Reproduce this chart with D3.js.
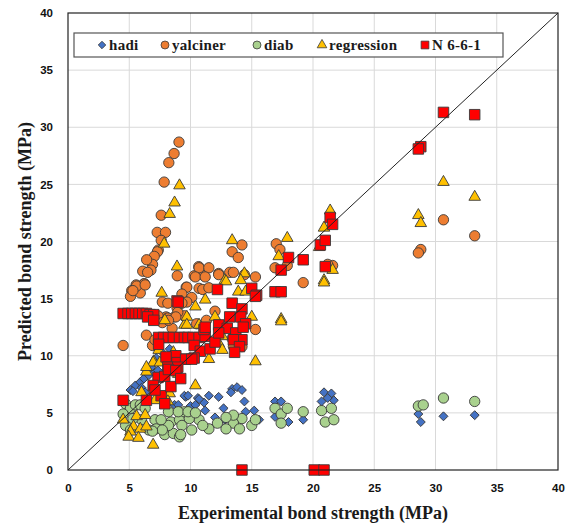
<!DOCTYPE html>
<html>
<head>
<meta charset="utf-8">
<script src="https://cdn.jsdelivr.net/npm/d3@7"></script>
<style>
  body { margin: 0; background: #fff; }
  .tick text { font-family: "Liberation Sans", Arial, sans-serif; font-weight: bold; font-size: 11.5px; fill: #111; }
  .ttl { font-family: "Liberation Serif", "Times New Roman", serif; font-weight: bold; fill: #1a1a1a; }
</style>
</head>
<body>
<div id="chart"></div>
<script>
const hadi = [
  [5.1,7.0],[5.5,7.4],[5.9,7.7],[6.2,8.0],[6.6,8.3],[6.95,8.6],[7.35,8.7],[6.0,7.2],[6.3,6.8],[6.8,9.0],
  [8.7,5.7],[9.6,6.4],[5.3,6.9],[7.6,10.4],[8.3,10.6],[7.2,9.8],[8.0,9.6],[9.5,6.5],[10.6,6.3],[11.1,5.9],[10.0,5.6],
  [13.4,7.1],[13.8,7.25],[14.2,7.0],[13.3,6.8],[9.8,6.5],[10.7,6.2],[11.5,6.5],[12.3,6.4],[10.4,5.7],[12.7,5.4],
  [11.2,5.2],[14.4,6.0],[15.2,5.2],[14.5,5.1],[12.0,4.6],[12.8,4.4],[16.9,6.0],[17.4,6.0],[18.0,4.2],[19.2,4.4],
  [20.9,6.8],[21.5,6.7],[20.7,6.0],[21.7,6.1],[16.9,4.65],[15.6,4.4],[9.0,5.7],[21.2,6.3],
  [28.6,4.9],[28.8,4.2],[30.65,4.7],[33.2,4.8]
];
const yalciner = [
  [9.06,28.7],[8.66,27.7],[8.23,26.9],[7.85,25.2],[7.61,22.3],[7.28,20.8],[7.96,20.8],[7.61,20.1],[7.37,19.25],
  [7.3,19.1],[7.04,18.7],[6.9,18.0],[6.42,18.4],[6.1,17.4],[6.77,17.5],[6.5,17.3],[6.2,16.3],[5.56,16.2],[5.2,15.7],
  [5.1,15.2],[5.9,15.5],[6.24,16.3],[5.6,16.1],[5.3,15.7],[6.3,16.2],
  [8.92,17.0],[10.67,17.8],[10.3,17.0],[11.1,17.0],[9.65,16.0],[10.7,15.9],[11.0,15.8],[9.7,16.0],[7.7,14.7],
  [8.9,14.2],[8.0,13.4],[8.7,13.4],[9.5,13.5],[6.4,11.8],[6.9,10.9],[4.5,10.9],[7.1,11.4],[8.15,14.6],[8.96,13.8],
  [7.35,13.5],[8.15,13.3],[7.7,12.9],[8.5,12.4],
  [14.2,19.7],[13.4,19.1],[13.9,18.6],[10.7,17.7],[11.5,17.7],[12.3,17.2],[10.4,16.9],[11.2,16.9],[13.2,17.3],
  [15.3,16.9],[11.5,15.95],[9.3,15.4],[10.1,15.1],[9.7,14.7],[8.8,13.4],[8.2,13.1],[9.3,14.6],[15.3,12.3],
  [13.5,10.8],[14.2,10.8],[13.4,11.5],[17.0,19.8],[14.4,17.1],[13.5,17.3],[12.3,17.1],[12.0,13.9],[11.3,13.1],
  [10.5,12.8],[12.7,12.6],
  [19.2,16.4],[17.3,19.3],[17.9,17.9],[16.9,17.7],[21.6,17.9],[21.2,18.0],
  [30.65,21.9],[33.2,20.5],[28.8,19.3],[28.6,19.0]
];
const diab = [
  [4.7,5.8],[5.1,5.4],[5.5,5.7],[4.5,4.9],[4.7,3.9],[5.1,3.5],[5.9,5.7],[6.3,5.4],[7.1,4.4],[7.2,3.6],[7.9,3.6],
  [7.9,3.1],[8.6,3.2],[9.1,2.9],[8.4,4.2],[9.1,4.4],[9.5,5.1],[6.6,3.5],[8.2,5.1],[9.0,5.1],[6.0,4.4],[5.3,4.5],
  [16.9,5.4],[17.4,4.9],[17.9,5.4],[17.4,4.1],[19.2,5.1],[20.7,5.2],[21.5,5.4],[21.0,4.2],[21.7,4.4],[15.0,3.9],
  [15.3,4.4],[14.2,4.5],[13.5,4.1],[12.9,3.6],[12.2,4.1],[11.5,3.6],[10.7,4.4],[9.9,4.5],[9.3,3.9],[9.2,3.1],
  [8.2,3.9],[7.6,4.4],[7.7,3.5],[6.9,3.4],[10.1,3.5],[11.0,3.9],[13.5,4.8],[14.0,3.6],[12.9,4.6],[9.8,5.1],[10.4,5.0],
  [30.65,6.3],[33.2,6.0],[28.6,5.6],[29.0,5.7]
];
const regression = [
  [9.1,24.9],[8.7,23.4],[8.3,22.4],[7.85,19.8],[8.9,17.8],[7.65,15.5],[9.5,12.7],[7.9,13.1],[7.4,10.5],[7.0,9.5],
  [4.5,4.4],[5.6,4.7],[6.3,4.8],[5.35,3.8],[5.1,3.35],[5.9,3.6],[6.4,3.8],[4.95,2.9],[5.75,2.8],[6.95,2.2],[6.0,6.8],
  [6.4,8.6],[6.95,9.4],[7.5,9.4],[8.3,6.7],[7.1,6.1],[8.15,6.0],[6.4,9.0],[8.6,10.3],[9.0,8.4],
  [13.4,20.1],[11.2,14.9],[10.4,14.3],[12.8,16.6],[14.4,17.2],[14.1,16.6],[13.9,15.6],[14.5,15.6],[9.7,13.4],
  [9.7,12.7],[10.7,12.7],[12.0,13.4],[15.0,13.4],[12.6,11.7],[12.3,11.1],[12.6,10.5],[11.5,9.7],[15.3,9.5],[10.4,7.4],
  [17.9,20.3],[17.2,18.7],[17.4,13.2],[17.4,13.0],[12.9,16.5],[21.4,22.7],[20.9,21.2],[20.5,19.5],[21.6,17.5],
  [20.9,16.6],[20.9,16.4],
  [30.65,25.2],[33.2,23.9],[28.6,22.3],[28.8,21.6]
];
const n661 = [
  [4.5,13.7],[4.9,13.7],[5.2,13.7],[5.5,13.7],[5.8,13.7],[6.1,13.7],[6.4,13.7],[6.7,13.6],[7.0,13.6],[6.5,13.4],[7.0,13.1],
  [8.9,14.8],[7.4,11.6],[7.8,11.6],[8.2,11.6],[8.6,11.6],[9.1,11.6],[9.5,11.6],[9.8,11.6],[10.2,11.6],[10.7,11.6],
  [11.2,11.7],[7.4,11.0],[11.1,12.3],[10.3,10.9],[10.8,10.4],[11.6,10.6],[12.0,11.2],
  [10.3,9.8],[9.5,9.7],[8.8,10.0],[8.2,9.1],[8.9,9.4],[9.6,9.7],[10.1,9.7],[8.0,9.9],[8.15,9.0],[8.96,9.0],[7.35,8.1],
  [7.9,8.2],[6.95,7.4],[7.6,6.5],[6.4,6.1],[7.9,5.8],[4.5,6.1],[8.4,7.3],[8.2,8.8],[8.8,8.7],[9.2,8.0],[7.1,7.0],
  [12.2,15.8],[15.0,15.9],[15.4,15.3],[13.4,14.6],[14.2,14.1],[11.2,12.5],[12.3,12.7],[13.2,13.4],[14.1,13.4],
  [14.5,12.8],[13.0,12.4],[13.7,12.0],[12.3,12.0],[14.2,11.4],[13.5,11.4],[14.0,10.8],[13.6,10.3],[14.3,12.5],
  [21.4,22.1],[21.6,21.5],[20.6,19.7],[21.0,20.1],[18.0,18.6],[19.2,18.4],[17.4,17.5],[21.0,17.8],[16.9,15.6],
  [17.4,15.6],[15.3,15.2],[9.0,14.7],
  [30.65,31.3],[33.2,31.1],[28.8,28.3],[28.6,28.1],
  [14.2,0],[20.1,0],[20.9,0]
];

const seriesNames = ['hadi', 'yalciner', 'diab', 'regression', 'N 6-6-1'];
const seriesData = [hadi, yalciner, diab, regression, n661];
const seriesColors = ['#4472C4', '#ED7D31', '#A9D18E', '#FFC000', '#FF0000'];
const ticks = [0, 5, 10, 15, 20, 25, 30, 35, 40];

const W = 574, H = 525;
const margin = {top: 13, right: 16, bottom: 55, left: 68};

const svg = d3.select('#chart').append('svg').attr('width', W).attr('height', H);

const x = d3.scaleLinear().domain([0, 40]).range([margin.left, W - margin.right]);
const y = d3.scaleLinear().domain([0, 40]).range([H - margin.bottom, margin.top]);

// 格線
svg.append('g').selectAll('line.v').data(ticks.slice(1, -1)).enter().append('line')
  .attr('x1', d => x(d)).attr('x2', d => x(d)).attr('y1', y(0)).attr('y2', y(40))
  .attr('stroke', '#d9d9d9').attr('stroke-width', 1);
svg.append('g').selectAll('line.h').data(ticks.slice(1, -1)).enter().append('line')
  .attr('y1', d => y(d)).attr('y2', d => y(d)).attr('x1', x(0)).attr('x2', x(40))
  .attr('stroke', '#d9d9d9').attr('stroke-width', 1);

// 座標軸（只留數字）
svg.append('g').attr('transform', `translate(0,${y(0)})`)
  .call(d3.axisBottom(x).tickValues(ticks).tickSize(0).tickPadding(14))
  .call(g => g.select('.domain').remove());
svg.append('g').attr('transform', `translate(${x(0)},0)`)
  .call(d3.axisLeft(y).tickValues(ticks).tickSize(0).tickPadding(15))
  .call(g => g.select('.domain').remove());

// 標記形狀
const shapes = [
  d3.symbol().type(d3.symbolSquare).size(40),    // 菱形（旋轉方塊）
  d3.symbol().type(d3.symbolCircle).size(84),
  d3.symbol().type(d3.symbolCircle).size(84),
  d3.symbol().type(d3.symbolTriangle).size(58),
  d3.symbol().type(d3.symbolSquare).size(110)
];
const rot = [45, 0, 0, 0, 0];

seriesData.forEach((data, i) => {
  svg.append('g').selectAll('path').data(data).enter().append('path')
    .attr('d', shapes[i]())
    .attr('transform', d => `translate(${x(d[0])},${y(d[1])}) rotate(${rot[i]})`)
    .attr('fill', seriesColors[i])
    .attr('stroke', '#3a3a3a')
    .attr('stroke-width', 0.9);
});

// 1:1 對角線
svg.append('line')
  .attr('x1', x(0)).attr('y1', y(0)).attr('x2', x(40)).attr('y2', y(40))
  .attr('stroke', '#222').attr('stroke-width', 1);

// 外框
svg.append('rect')
  .attr('x', x(0)).attr('y', y(40)).attr('width', x(40) - x(0)).attr('height', y(0) - y(40))
  .attr('fill', 'none').attr('stroke', '#222').attr('stroke-width', 1.2);

// 圖例
const legend = svg.append('g');
legend.append('rect').attr('x', 74).attr('y', 33).attr('width', 429).attr('height', 24)
  .attr('fill', '#fff').attr('stroke', '#555').attr('stroke-width', 1.2);
const legendX = [102, 165, 257, 322, 425];
const legendShapes = [
  d3.symbol().type(d3.symbolSquare).size(28),
  d3.symbol().type(d3.symbolCircle).size(50),
  d3.symbol().type(d3.symbolCircle).size(50),
  d3.symbol().type(d3.symbolTriangle).size(40),
  d3.symbol().type(d3.symbolSquare).size(60)
];
seriesNames.forEach((name, i) => {
  legend.append('path')
    .attr('d', legendShapes[i]())
    .attr('transform', `translate(${legendX[i]},45) rotate(${rot[i]})`)
    .attr('fill', seriesColors[i]).attr('stroke', '#3a3a3a').attr('stroke-width', 0.8);
  legend.append('text').attr('class', 'ttl')
    .attr('x', legendX[i] + 7).attr('y', 50)
    .style('font-size', '15px').style('letter-spacing', '0.3px')
    .text(name);
});

// 軸標題
svg.append('text').attr('class', 'ttl')
  .attr('x', (x(0) + x(40)) / 2).attr('y', 519)
  .attr('text-anchor', 'middle').style('font-size', '18px')
  .text('Experimental bond strength (MPa)');
svg.append('text').attr('class', 'ttl')
  .attr('transform', `translate(31,${(y(0) + y(40)) / 2}) rotate(-90)`)
  .attr('text-anchor', 'middle').style('font-size', '18px')
  .text('Predicted bond strength (MPa)');
</script>
</body>
</html>
